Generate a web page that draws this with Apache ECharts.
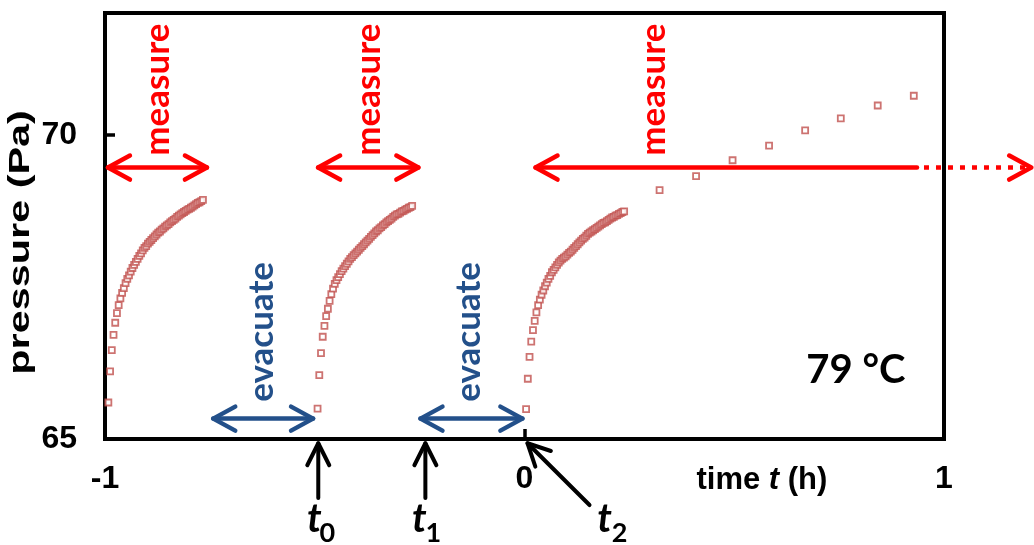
<!DOCTYPE html>
<html>
<head>
<meta charset="utf-8">
<script src="https://cdn.jsdelivr.net/npm/echarts/dist/echarts.min.js"></script>
<style>
  html, body { margin: 0; padding: 0; background: #ffffff; }
  #chart { width: 1034px; height: 545px; }
</style>
</head>
<body>
<div id="chart"></div>
<script>
// Axis tick labels
const timeTicks = [-1, 0, 1];
const pressureTicks = [65, 70];

// Pressure logger samples every 0.0041 h; each run starts right after an evacuation
const sampleStep = 0.0041;
const run1Start = -0.992;
const run2Start = -0.4933;
const run3Start = 0.0038;

// Pressure (Pa) of run 1
const run1Pressure = [
  65.60, 66.11, 66.46, 66.71, 66.91, 67.07, 67.20, 67.31, 67.40, 67.48,
  67.56, 67.63, 67.69, 67.75, 67.81, 67.86, 67.91, 67.96, 68.01, 68.05,
  68.10, 68.14, 68.17, 68.21, 68.24, 68.27, 68.30, 68.33, 68.36, 68.39,
  68.41, 68.44, 68.46, 68.49, 68.51, 68.53, 68.56, 68.58, 68.60, 68.62,
  68.65, 68.67, 68.69, 68.71, 68.73, 68.75, 68.77, 68.78, 68.80, 68.82,
  68.84, 68.86, 68.88, 68.89, 68.91, 68.93
];
// Pressure (Pa) of run 2
const run2Pressure = [
  65.50, 66.05, 66.41, 66.68, 66.86, 67.02, 67.14, 67.27, 67.38, 67.47,
  67.55, 67.61, 67.66, 67.71, 67.76, 67.80, 67.84, 67.88, 67.92, 67.96,
  67.99, 68.02, 68.05, 68.08, 68.11, 68.14, 68.17, 68.20, 68.23, 68.26,
  68.29, 68.32, 68.35, 68.38, 68.41, 68.43, 68.46, 68.48, 68.51, 68.53,
  68.56, 68.58, 68.60, 68.62, 68.65, 68.67, 68.69, 68.70, 68.72, 68.74,
  68.75, 68.77, 68.78, 68.80, 68.81, 68.83
];
// Pressure (Pa) of run 3 (dense part)
const run3Pressure = [
  65.49, 65.99, 66.35, 66.60, 66.79, 66.94, 67.08, 67.20, 67.29, 67.37,
  67.44, 67.51, 67.57, 67.63, 67.68, 67.74, 67.78, 67.82, 67.86, 67.90,
  67.93, 67.96, 67.98, 68.00, 68.03, 68.06, 68.08, 68.11, 68.14, 68.17,
  68.20, 68.23, 68.26, 68.29, 68.31, 68.34, 68.37, 68.39, 68.41, 68.43,
  68.45, 68.47, 68.49, 68.51, 68.53, 68.55, 68.56, 68.58, 68.60, 68.62,
  68.64, 68.65, 68.67, 68.68, 68.70, 68.71, 68.73, 68.74
];
// Run 3, sparse readings later on
const run3LateTime = [0.322, 0.409, 0.496, 0.583, 0.669, 0.754, 0.842, 0.928];
const run3LatePressure = [69.09, 69.32, 69.58, 69.82, 70.07, 70.27, 70.48, 70.64];

function sampled(start, values) {
  return values.map((p, i) => [start + i * sampleStep, p]);
}
function paired(times, values) {
  return times.map((t, i) => [t, values[i]]);
}

const markerStyle = {
  type: 'scatter',
  symbol: 'rect',
  symbolSize: 6,
  itemStyle: { color: '#ffffff', borderColor: '#C0504D', borderWidth: 1.8 },
  z: 5
};

const axisFont = '"Liberation Sans", Arial, sans-serif';
const calibriLike = 'Lato, "Open Sans", sans-serif';

const chart = echarts.init(document.getElementById('chart'), null, { renderer: 'canvas' });

chart.setOption({
  animation: false,
  backgroundColor: '#ffffff',
  grid: {
    left: 105, right: 90, top: 13, bottom: 106,
    containLabel: false, outerBoundsMode: 'none',
    show: true, borderColor: '#000000', borderWidth: 4
  },
  xAxis: {
    type: 'value', min: -1, max: 1, interval: 1,
    axisLine: { show: false, onZero: false },
    splitLine: { show: false },
    axisTick: { show: true, inside: true, length: 10, lineStyle: { color: '#000', width: 3.5 } },
    axisLabel: {
      margin: 24, color: '#000', fontSize: 32, fontWeight: 'bold', fontFamily: axisFont,
      formatter: v => timeTicks.includes(v) ? String(v) : ''
    }
  },
  yAxis: {
    type: 'value', min: 65, max: 72, interval: 5,
    axisLine: { show: false, onZero: false },
    splitLine: { show: false },
    axisTick: { show: true, inside: true, length: 10, lineStyle: { color: '#000', width: 3.5 } },
    axisLabel: {
      margin: 28, color: '#000', fontSize: 32, fontWeight: 'bold', fontFamily: axisFont,
      showMaxLabel: false,
      formatter: v => pressureTicks.includes(v) ? String(v) : ''
    }
  },
  series: [
    Object.assign({ name: 'run 1', data: sampled(run1Start, run1Pressure) }, markerStyle),
    Object.assign({ name: 'run 2', data: sampled(run2Start, run2Pressure) }, markerStyle),
    Object.assign({ name: 'run 3', data: sampled(run3Start, run3Pressure) }, markerStyle),
    Object.assign({ name: 'run 3 late', data: paired(run3LateTime, run3LatePressure) }, markerStyle)
  ]
});

// ---- annotations, placed in data coordinates ----
const RED = '#FF0000';
const BLUE = '#23508A';
const BLACK = '#000000';

function at(t, p) {
  return chart.convertToPixel({ xAxisIndex: 0, yAxisIndex: 0 }, [t, p]);
}
function stroke(points, color, width, dash) {
  return {
    type: 'polyline', silent: true, z: 10,
    shape: { points: points },
    style: {
      stroke: color, lineWidth: width, fill: null,
      lineCap: dash ? 'butt' : 'round', lineJoin: 'round',
      lineDash: dash || null
    }
  };
}
// open chevron head at "tip", pointing away from "from"
function chevron(tip, from, len, half, color, width) {
  const dx = from[0] - tip[0], dy = from[1] - tip[1];
  const d = Math.hypot(dx, dy);
  const ux = dx / d, uy = dy / d;
  const bx = tip[0] + ux * len, by = tip[1] + uy * len;
  return stroke([[bx - uy * half, by + ux * half], tip, [bx + uy * half, by - ux * half]], color, width);
}
function doubleArrow(t0, t1, p, color) {
  const a = at(t0, p), b = at(t1, p);
  return [
    stroke([a, b], color, 4.5),
    chevron(a, b, 22, 12, color, 4.5),
    chevron(b, a, 22, 12, color, 4.5)
  ];
}
function singleArrow(tail, tip, color) {
  const a = at(tail[0], tail[1]), b = at(tip[0], tip[1]);
  return [stroke([a, b], color, 4), chevron(b, a, 22, 11, color, 4)];
}
function label(t, p, text, font, color, rotation, stretch) {
  const c = at(t, p);
  return {
    type: 'text', silent: true, z: 11,
    x: c[0], y: c[1], rotation: rotation || 0,
    scaleX: stretch || 1,
    style: {
      text: text, font: font, fill: color,
      align: 'center', verticalAlign: 'middle',
      textAlign: 'center', textVerticalAlign: 'middle'
    }
  };
}

const measureP = 69.46;
const evacuateP = 65.335;
const elements = [];

// measuring windows
elements.push(...doubleArrow(-0.993, -0.757, measureP, RED));
elements.push(...doubleArrow(-0.492, -0.253, measureP, RED));
// open-ended measuring window of the last run
(function () {
  const left = at(0.0263, measureP);
  const solidEnd = at(0.9356, measureP);
  const dotStart = at(0.9523, measureP);
  const tip = at(1.208, measureP);
  elements.push(stroke([left, solidEnd], RED, 4.5));
  elements.push(stroke([dotStart, [tip[0] - 3, tip[1]]], RED, 4.5, [5, 7]));
  elements.push(chevron(left, solidEnd, 22, 12, RED, 4.5));
  elements.push(chevron(tip, left, 22, 12, RED, 4.5));
})();
const measureFont = 'bold 35px ' + calibriLike;
elements.push(label(-0.8735, 70.74, 'measure', measureFont, RED, Math.PI / 2));
elements.push(label(-0.3723, 70.74, 'measure', measureFont, RED, Math.PI / 2));
elements.push(label(0.3079, 70.74, 'measure', measureFont, RED, Math.PI / 2));

// evacuation windows
elements.push(...doubleArrow(-0.742, -0.504, evacuateP, BLUE));
elements.push(...doubleArrow(-0.248, -0.005, evacuateP, BLUE));
elements.push(label(-0.6253, 66.76, 'evacuate', measureFont, BLUE, Math.PI / 2));
elements.push(label(-0.1337, 66.76, 'evacuate', measureFont, BLUE, Math.PI / 2));

// t0, t1, t2 markers below the time axis
elements.push(...singleArrow([-0.4916, 64.03], [-0.4916, 64.93], BLACK));
elements.push(...singleArrow([-0.2363, 64.03], [-0.2363, 64.93], BLACK));
elements.push(...singleArrow([0.155, 63.915], [0.0072, 64.93], BLACK));
const tFont = 'italic bold 40px ' + calibriLike;
const subFont = 'bold 27px ' + calibriLike;
elements.push(label(-0.5011, 63.68, 't', tFont, BLACK));
elements.push(label(-0.4701, 63.45, '0', subFont, BLACK));
elements.push(label(-0.2506, 63.68, 't', tFont, BLACK));
elements.push(label(-0.2172, 63.45, '1', subFont, BLACK));
elements.push(label(0.1909, 63.68, 't', tFont, BLACK));
elements.push(label(0.2267, 63.45, '2', subFont, BLACK));

// temperature tag
elements.push(label(0.790, 66.13, '79 °C', 'bold 40px ' + calibriLike, BLACK));

// pressure axis title, running bottom to top along the left edge
elements.push(label(-1.200, 68.23, 'pressure (Pa)', 'bold 30px ' + axisFont, BLACK, Math.PI / 2, 1.38));

// time axis title with italic symbol
(function () {
  const c = at(0.566, 64.326);
  elements.push({
    type: 'text', silent: true, z: 11, x: c[0], y: c[1],
    style: {
      text: '{a|time }{b|t}{a| (h)}',
      fill: BLACK,
      align: 'center', verticalAlign: 'middle',
      textAlign: 'center', textVerticalAlign: 'middle',
      rich: {
        a: { fontSize: 31, fontWeight: 'bold', fontFamily: axisFont, fill: BLACK, color: BLACK },
        b: { fontSize: 31, fontWeight: 'bold', fontStyle: 'italic', fontFamily: axisFont, fill: BLACK, color: BLACK }
      }
    }
  });
})();

chart.setOption({ graphic: { elements: elements } });
</script>
</body>
</html>
